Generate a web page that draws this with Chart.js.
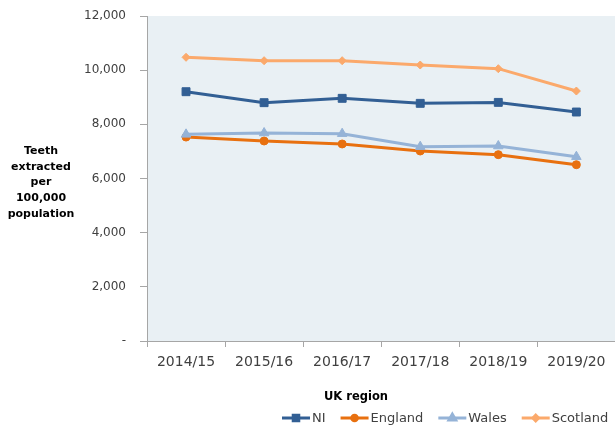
<!DOCTYPE html>
<html>
<head>
<meta charset="utf-8">
<script src="https://cdn.jsdelivr.net/npm/chart.js@4/dist/chart.umd.min.js"></script>
<style>
  html, body { margin: 0; padding: 0; background: #fff; overflow: hidden; }
  #wrap { width: 622px; height: 427px; }
</style>
</head>
<body>
<div id="wrap"><canvas id="chart" width="622" height="427"></canvas></div>
<script>
// データ
const years = ['2014/15', '2015/16', '2016/17', '2017/18', '2018/19', '2019/20'];
const ni = [9205, 8800, 8960, 8775, 8810, 8455];
const england = [7530, 7385, 7275, 7015, 6880, 6510];
const wales = [7630, 7680, 7655, 7175, 7200, 6805];
const scotland = [10475, 10350, 10350, 10190, 10055, 9230];
const yTicks = [0, 2000, 4000, 6000, 8000, 10000, 12000];

const yTitle = ['Teeth', 'extracted', 'per', '100,000', 'population'];
const xTitle = 'UK region';

const textColor = '#404040';
const axisColor = '#a6a6a6';

// プロットエリアの背景
const plotBg = {
    id: 'plotBg',
    beforeDraw(chart) {
        const { ctx, chartArea: a } = chart;
        ctx.save();
        ctx.fillStyle = '#e9f0f4';
        ctx.fillRect(a.left, a.top, a.right - a.left, a.bottom - a.top);
        ctx.restore();
    }
};

// 軸タイトルと凡例
const extras = {
    id: 'extras',
    afterDraw(chart) {
        const ctx = chart.ctx;
        ctx.save();
        ctx.fillStyle = '#000';
        ctx.textAlign = 'center';
        ctx.textBaseline = 'middle';
        ctx.font = 'bold 11px "DejaVu Sans"';
        yTitle.forEach((t, i) => ctx.fillText(t, 41, 151 + i * 15.8));

        ctx.font = 'bold 11.5px "DejaVu Sans"';
        ctx.fillText(xTitle, 356, 397);

        // 凡例
        ctx.font = '13px "DejaVu Sans"';
        ctx.textAlign = 'left';
        let x = 282;
        const y = 418;
        chart.data.datasets.forEach(ds => {
            ctx.strokeStyle = ds.borderColor;
            ctx.fillStyle = ds.borderColor;
            ctx.lineWidth = 3;
            ctx.beginPath();
            ctx.moveTo(x, y);
            ctx.lineTo(x + 28, y);
            ctx.stroke();
            if (Chart.helpers && Chart.helpers.drawPoint) {
                Chart.helpers.drawPoint(ctx, {
                    pointStyle: ds.pointStyle,
                    radius: ds.pointRadius * 0.7,
                    borderWidth: 1,
                    rotation: 0
                }, x + 14, y);
            }
            ctx.fillStyle = textColor;
            ctx.fillText(ds.label, x + 30, y + 1);
            x += 30 + ctx.measureText(ds.label).width + 15;
        });
        ctx.restore();
    }
};

function line(label, data, color, style, r, order) {
    return {
        label: label,
        data: data,
        borderColor: color,
        backgroundColor: color,
        borderWidth: 3,
        pointStyle: style,
        pointRadius: r,
        pointHoverRadius: r,
        pointBorderWidth: 1,
        tension: 0,
        order: order
    };
}

new Chart(document.getElementById('chart'), {
    type: 'line',
    data: {
        labels: years,
        datasets: [
            line('NI', ni, '#325f94', 'rect', 5.6, 4),
            line('England', england, '#e8700f', 'circle', 4, 3),
            line('Wales', wales, '#95b3d7', 'triangle', 5.5, 2),
            line('Scotland', scotland, '#fba96b', 'rectRot', 4, 1)
        ]
    },
    options: {
        responsive: false,
        animation: false,
        layout: { padding: { top: 16, right: 3, bottom: 0, left: 0 } },
        plugins: {
            legend: { display: false },
            tooltip: { enabled: false }
        },
        scales: {
            x: {
                offset: true,
                grid: {
                    offset: true,
                    drawOnChartArea: false,
                    tickLength: 6,
                    color: axisColor
                },
                border: { color: axisColor, width: 1 },
                ticks: {
                    color: textColor,
                    font: { family: 'DejaVu Sans', size: 14 },
                    padding: 7,
                    maxRotation: 0
                },
                afterFit(scale) { scale.height = 86; }
            },
            y: {
                min: 0,
                max: 12000,
                afterBuildTicks(scale) {
                    scale.ticks = yTicks.map(v => ({ value: v }));
                },
                grid: {
                    drawOnChartArea: false,
                    tickLength: 7,
                    color: axisColor
                },
                border: { color: axisColor, width: 1 },
                ticks: {
                    color: textColor,
                    font: { family: 'DejaVu Sans', size: 12 },
                    padding: 14,
                    callback: v => v === 0 ? '-' : v.toLocaleString('en-GB')
                },
                afterFit(scale) {
                    scale.width = 147;
                    scale.paddingTop = 0;
                    scale.paddingBottom = 0;
                }
            }
        }
    },
    plugins: [plotBg, extras]
});
</script>
</body>
</html>
